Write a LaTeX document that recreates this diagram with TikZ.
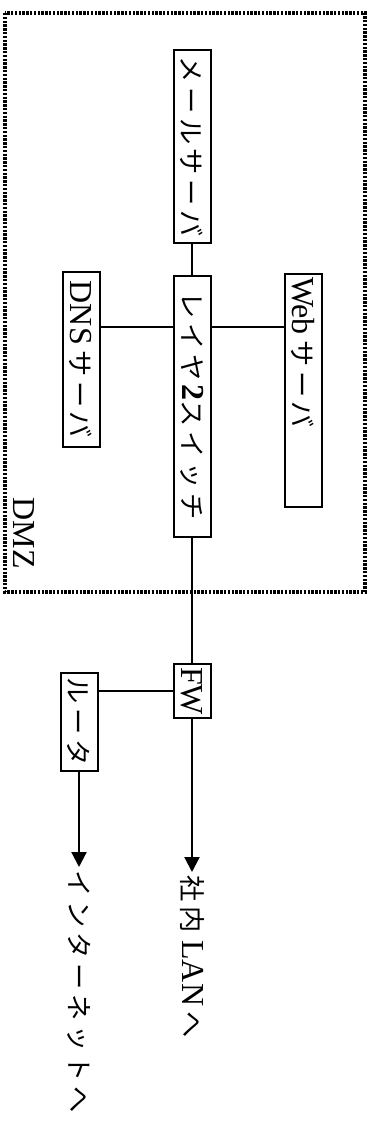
\documentclass[tikz,border=0pt]{standalone}
\usepackage{fontspec}
\setmainfont{Liberation Serif}
\newfontfamily\jp[Scale=0.82,LetterSpace=18]{Noto Sans CJK JP}
\usetikzlibrary{arrows.meta}

\begin{document}
\begin{tikzpicture}[
    x=1pt, y=-1pt,
    every node/.style={font=\fontsize{32}{32}\selectfont},
    box/.style={draw, line width=2pt, rotate=-90, inner sep=3pt, minimum height=37pt},
    label/.style={rotate=-90, inner sep=3pt},
    link/.style={line width=2.2pt},
    tolink/.style={line width=2.2pt, -{Triangle[length=15pt,width=15pt]}}
]
\useasboundingbox (0,0) rectangle (378,1126);
% DMZ zone
\draw[line width=3.4pt, dash pattern=on 2.4pt off 1.4pt] (5,13) rectangle (365,592);
\node[label] (dmz) at (24,533) {DMZ};
% Servers and switch
\node[box, minimum width=193pt] (mail) at (192,146.5) {\jp メールサーバ};
\node[box, minimum width=261pt] (sw) at (192,406.5) {\jp レイヤ\textbf{\rmfamily 2}スイッチ};
\node[box, minimum width=175pt] (dns) at (81,359.5) {DNS\,{\jp サーバ}};
\node[box, text width=227pt, align=left] (web) at (303,390.5) {Web\,{\jp サーバ}};
% Firewall and router
\node[box, minimum width=52pt] (fw) at (192,691) {FW};
\node[box, minimum width=98pt] (rt) at (79,722) {\jp ルータ};
% Destinations
\node[label, anchor=west] (lan) at (192,872) {{\jp 社内} LAN\,{\jp へ}};
\node[label, anchor=west] (net) at (79,867) {\jp インターネットへ};
% Links
\draw[link] (mail.east) -- (mail.east |- sw.west);
\draw[link] (dns.north |- 0,327) -- (sw.south |- 0,327);
\draw[link] (sw.north |- 0,327) -- (web.south |- 0,327);
\draw[link] (sw.east) -- (fw.west);
\draw[link] (fw.south |- 0,691) -- (rt.north |- 0,691);
\draw[tolink] (fw.east) -- (lan.west);
\draw[tolink] (rt.east) -- (net.west);
\end{tikzpicture}
\end{document}
